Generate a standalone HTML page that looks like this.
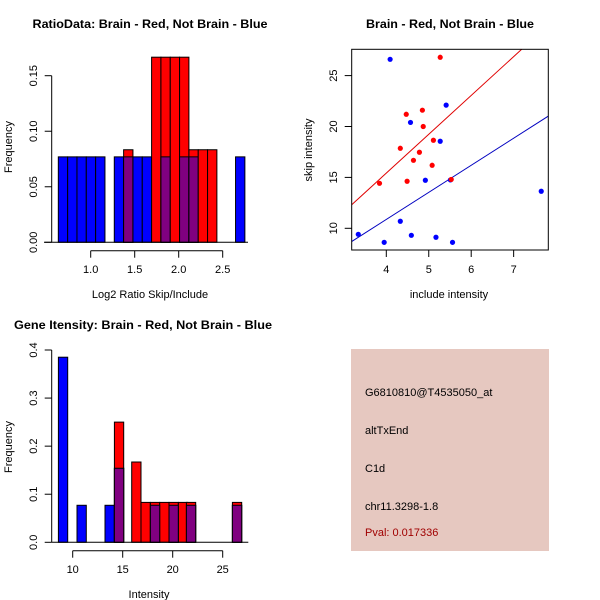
<!DOCTYPE html>
<html><head><meta charset="utf-8"><style>
html,body{margin:0;padding:0;background:#fff;}
svg{display:block;font-family:"Liberation Sans",sans-serif;}
</style></head><body>
<svg id="c" width="600" height="600" viewBox="0 0 600 600">
  <defs><clipPath id="scclip"><rect x="351.7" y="49.3" width="196.6" height="200.7"/></clipPath></defs>
  <rect x="351" y="349" width="198" height="202" fill="#e6c8c0"/>
  <text x="365" y="396" font-size="11" fill="#000">G6810810@T4535050_at</text>
  <text x="365" y="434" font-size="11" fill="#000">altTxEnd</text>
  <text x="365" y="472" font-size="11" fill="#000">C1d</text>
  <text x="365" y="510" font-size="11" fill="#000">chr11.3298-1.8</text>
  <text x="365" y="536" font-size="11" fill="#a00000">Pval: 0.017336</text>
</svg>
<script>
// ---- Panel 1 data: log2 ratio histogram ----
const ratioBinStart = 0.632;
const ratioBinWidth = 0.106;
const ratioBlueCounts = [1,1,1,1,1,0,1,1,1,1,0,1,0,1,1,0,0,0,0,1];
const ratioRedCounts  = [0,0,0,0,0,0,0,1,0,0,2,2,2,2,1,1,1,0,0,0];
const ratioBlueTotal = 13, ratioRedTotal = 12;
const ratioXTicks = [1.0,1.5,2.0,2.5];
const ratioXTickLabels = ["1.0","1.5","2.0","2.5"];
const ratioYTicks = [0,0.05,0.10,0.15];
const ratioYTickLabels = ["0.00","0.05","0.10","0.15"];
// ---- Panel 2 data: scatter ----
const blueX = [4.09,5.41,4.57,5.27,4.92,5.51,7.65,4.33,3.34,3.95,4.59,5.17,5.56];
const blueY = [26.6,22.1,20.4,18.55,14.72,14.75,13.64,10.69,9.41,8.62,9.31,9.12,8.62];
const redX = [5.27,4.47,4.85,4.87,5.11,4.33,4.78,4.64,5.08,3.84,4.49,5.53];
const redY = [26.8,21.2,21.6,20.0,18.65,17.86,17.47,16.68,16.19,14.42,14.62,14.8];
const redFit = [0.16,3.815];   // intercept, slope
const blueFit = [0.23,2.66];
const scXTicks = [4,5,6,7];
const scYTicks = [10,15,20,25];
// ---- Panel 3 data: intensity histogram ----
const intBarWidth = 0.93;
const intBlueStarts = [8.57,10.43,13.23,14.17,17.77,19.63,21.37,25.97];
const intBlueFreq   = [0.385,0.077,0.077,0.154,0.077,0.077,0.077,0.077];
const intRedStarts  = [14.17,15.9,16.83,17.77,18.7,19.63,20.57,21.37,25.97];
const intRedFreq    = [0.25,0.167,0.083,0.083,0.083,0.083,0.083,0.083,0.083];
const intXTicks = [10,15,20,25];
const intYTicks = [0,0.1,0.2,0.3,0.4];
const intYTickLabels = ["0.0","0.1","0.2","0.3","0.4"];

const svg = document.getElementById('c');
const NS = 'http://www.w3.org/2000/svg';
function mk(tag, attrs, parent){
  const e = document.createElementNS(NS, tag);
  for (const k in attrs) e.setAttribute(k, attrs[k]);
  (parent||svg).appendChild(e);
  return e;
}
function txt(s, x, y, size, opts, parent){
  const t = mk('text', Object.assign({x:x, y:y, 'font-size':size, 'text-anchor':'middle', fill:'#000'}, opts||{}), parent);
  t.textContent = s;
  return t;
}

// ===== Panel 1 =====
(function(){
  const g = mk('g', {});
  
  
  const X = v => 90.7 + (v - 1.0) * 88;
  const Y = v => 242.3 - v * (166.6 / 0.15);
  const t = txt('RatioData: Brain - Red, Not Brain - Blue', 150, 28, 12, {'font-weight':'bold', textLength:235, lengthAdjust:'spacingAndGlyphs'}, g);
  
  
  for (let i = 0; i < ratioBlueCounts.length; i++) {
    const x0 = X(ratioBinStart + i*ratioBinWidth), x1 = X(ratioBinStart + (i+1)*ratioBinWidth);
    const b = ratioBlueCounts[i] / ratioBlueTotal, r = ratioRedCounts[i] / ratioRedTotal;
    const bars = [];
    if (b > 0) bars.push([b, '#0000ff', 'ratio-bar-blue']);
    if (r > 0) bars.push([r, '#ff0000', 'ratio-bar-red']);
    if (b > 0 && r > 0) bars.push([Math.min(b,r), '#800080', 'ratio-bar-overlap']);
    bars.forEach(([v,c,n]) => {
      const el = mk('rect', {x:x0, y:Y(v), width:x1-x0, height:Y(0)-Y(v), fill:c, stroke:'#000', 'stroke-width':1}, g);
      
      
    });
  }
  mk('line', {x1:44, x2:248, y1:Y(0), y2:Y(0), stroke:'#000'}, g);
  mk('line', {x1:51.7, x2:51.7, y1:Y(0), y2:Y(0.15), stroke:'#000'}, g);
  ratioYTicks.forEach((v,i) => {
    mk('line', {x1:44.7, x2:51.7, y1:Y(v), y2:Y(v), stroke:'#000'}, g);
    txt(ratioYTickLabels[i], 33, Y(v)+4, 11, {transform:`rotate(-90 33 ${Y(v)})`}, g);
  });
  mk('line', {x1:X(1.0), x2:X(2.5), y1:250.7, y2:250.7, stroke:'#000'}, g);
  ratioXTicks.forEach((v,i) => {
    mk('line', {x1:X(v), x2:X(v), y1:250.7, y2:257.7, stroke:'#000'}, g);
    txt(ratioXTickLabels[i], X(v), 273, 11, {}, g);
  });
  const xl = txt('Log2 Ratio Skip/Include', 150, 298, 11, {}, g);
  
  
  const yl = txt('Frequency', 8, 151, 11, {transform:'rotate(-90 8 147)'}, g);
  
  
})();

// ===== Panel 2 =====
(function(){
  const g = mk('g', {});
  
  
  const X = v => 386.3 + (v - 4) * 42.45;
  const Y = v => 228.3 - (v - 10) * 10.18;
  const L = 351.7, R = 548.3, T = 49.3, B = 250;
  const t = txt('Brain - Red, Not Brain - Blue', 450, 28, 12, {'font-weight':'bold', textLength:168, lengthAdjust:'spacingAndGlyphs'}, g);
  
  
  const lx0 = 3.0, lx1 = 8.0;
  const rl = mk('line', {x1:X(lx0), y1:Y(redFit[0]+redFit[1]*lx0), x2:X(lx1), y2:Y(redFit[0]+redFit[1]*lx1), stroke:'#e00000', 'clip-path':'url(#scclip)'}, g);
  
  
  const bl = mk('line', {x1:X(lx0), y1:Y(blueFit[0]+blueFit[1]*lx0), x2:X(lx1), y2:Y(blueFit[0]+blueFit[1]*lx1), stroke:'#0000c0', 'clip-path':'url(#scclip)'}, g);
  
  
  blueX.forEach((x,i) => {
    const p = mk('circle', {cx:X(x), cy:Y(blueY[i]), r:2.6, fill:'#0000ff'}, g);
    
    
  });
  redX.forEach((x,i) => {
    const p = mk('circle', {cx:X(x), cy:Y(redY[i]), r:2.6, fill:'#ff0000'}, g);
    
    
  });
  mk('rect', {x:L, y:T, width:R-L, height:B-T, fill:'none', stroke:'#000'}, g);
  scXTicks.forEach(v => {
    mk('line', {x1:X(v), x2:X(v), y1:B, y2:B+7, stroke:'#000'}, g);
    txt(String(v), X(v), 273, 11, {}, g);
  });
  scYTicks.forEach(v => {
    mk('line', {x1:L-7, x2:L, y1:Y(v), y2:Y(v), stroke:'#000'}, g);
    txt(String(v), 333, Y(v)+4, 11, {transform:`rotate(-90 333 ${Y(v)})`}, g);
  });
  const xl = txt('include intensity', 449, 298, 11, {}, g);
  
  
  const yl = txt('skip intensity', 308, 154, 11, {transform:'rotate(-90 308 150)'}, g);
  
  
})();

// ===== Panel 3 =====
(function(){
  const g = mk('g', {});
  
  
  const X = v => 72.7 + (v - 10) * 10;
  const Y = v => 542.3 - v * 480.75;
  const t = txt('Gene Itensity: Brain - Red, Not Brain - Blue', 143, 329, 12, {'font-weight':'bold', textLength:258, lengthAdjust:'spacingAndGlyphs'}, g);
  
  
  function bar(x0, v, c, n){
    const el = mk('rect', {x:X(x0), y:Y(v), width:intBarWidth*10, height:Y(0)-Y(v), fill:c, stroke:'#000'}, g);
    
    
  }
  intBlueStarts.forEach((x,i) => bar(x, intBlueFreq[i], '#0000ff', 'intensity-bar-blue'));
  intRedStarts.forEach((x,i) => bar(x, intRedFreq[i], '#ff0000', 'intensity-bar-red'));
  intBlueStarts.forEach((x,i) => {
    const j = intRedStarts.indexOf(x);
    if (j >= 0) bar(x, Math.min(intBlueFreq[i], intRedFreq[j]), '#800080', 'intensity-bar-overlap');
  });
  mk('line', {x1:51.7, x2:248.3, y1:Y(0), y2:Y(0), stroke:'#000'}, g);
  mk('line', {x1:51.7, x2:51.7, y1:Y(0), y2:Y(0.4), stroke:'#000'}, g);
  intYTicks.forEach((v,i) => {
    mk('line', {x1:44.7, x2:51.7, y1:Y(v), y2:Y(v), stroke:'#000'}, g);
    txt(intYTickLabels[i], 33, Y(v)+4, 11, {transform:`rotate(-90 33 ${Y(v)})`}, g);
  });
  mk('line', {x1:X(10), x2:X(25), y1:550.7, y2:550.7, stroke:'#000'}, g);
  intXTicks.forEach(v => {
    mk('line', {x1:X(v), x2:X(v), y1:550.7, y2:557.7, stroke:'#000'}, g);
    txt(String(v), X(v), 573, 11, {}, g);
  });
  const xl = txt('Intensity', 149, 598, 11, {}, g);
  
  
  const yl = txt('Frequency', 8, 451, 11, {transform:'rotate(-90 8 447)'}, g);
  
  
})();
</script>
</body></html>
